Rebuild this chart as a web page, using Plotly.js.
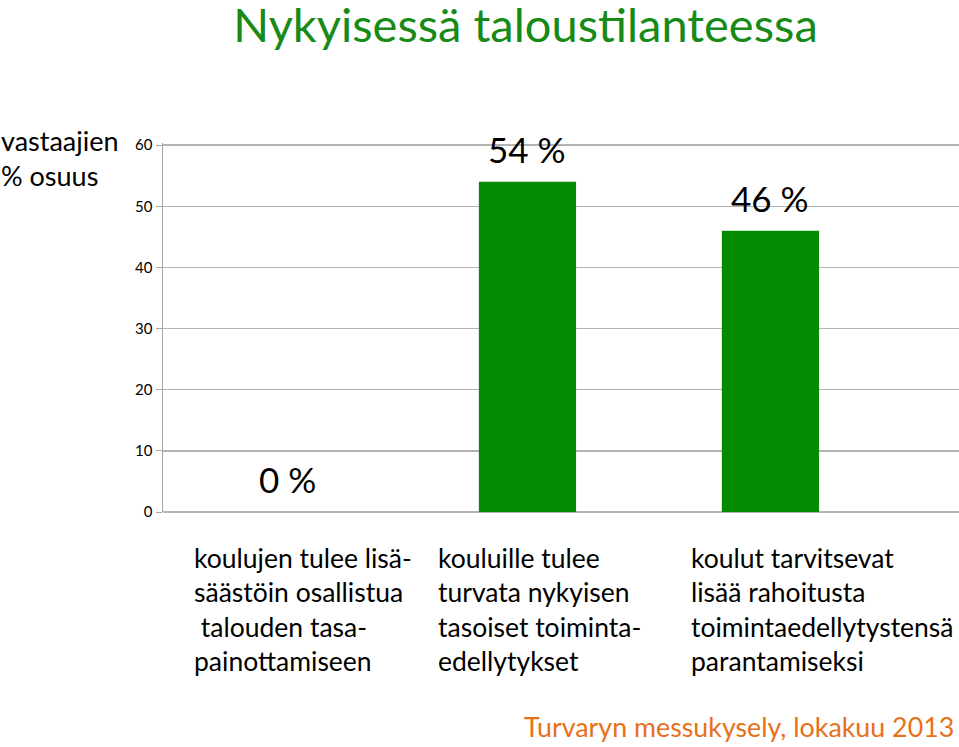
<!DOCTYPE html>
<html><head><meta charset="utf-8">
<script src="https://cdn.plot.ly/plotly-3.0.1.min.js"></script>
<style>html,body{margin:0;padding:0;background:#fff}#c{width:959px;height:747px}</style>
</head><body><div id="c"></div>
<script>
const categories = [
  "koulujen tulee lisä-<br>säästöin osallistua<br>\u00A0talouden tasa-<br>painottamiseen",
  "kouluille tulee<br>turvata nykyisen<br>tasoiset toiminta-<br>edellytykset",
  "koulut tarvitsevat<br>lisää rahoitusta<br>toimintaedellytystensä<br>parantamiseksi"
];
const values = [0, 54, 46];
const valueLabels = ["0 %", "54 %", "46 %"];
const yTicks = [0, 10, 20, 30, 40, 50, 60];
const labelShift = [-92, -91, -81];

const F = "Lato, 'Open Sans', sans-serif";
const idx = categories.map((_, i) => i);

const annotations = [];
idx.forEach(i => {
  annotations.push({x: i, y: values[i], xref: 'x', yref: 'y', text: valueLabels[i],
    showarrow: false, yanchor: 'bottom', yshift: 10, xshift: i === 0 ? 3 : 0, font: {family: F, size: 35, color: '#000'}});
  annotations.push({x: i, y: 0, xref: 'x', yref: 'y', text: categories[i], showarrow: false,
    xanchor: 'left', yanchor: 'top', align: 'left', xshift: labelShift[i], yshift: -28,
    font: {family: F, size: 26.5, color: '#000'}});
});
annotations.push({x: 0, y: 1, xref: 'paper', yref: 'paper', xanchor: 'left', yanchor: 'top',
  xshift: -164, yshift: 21, align: 'left', showarrow: false, text: 'vastaajien<br>% osuus',
  font: {family: F, size: 27, color: '#000'}});
annotations.push({x: 1, y: 0, xref: 'paper', yref: 'paper', xanchor: 'right', yanchor: 'bottom',
  xshift: -3, yshift: -235 + 2, showarrow: false, text: 'Turvaryn messukysely, lokakuu 2013',
  font: {family: F, size: 26.8, color: '#e8701a'}});

Plotly.newPlot('c', [{
  type: 'bar', x: idx, y: values, width: 0.4,
  marker: {color: '#008b00', line: {width: 0}}, hoverinfo: 'none'
}], {
  width: 959, height: 747,
  margin: {l: 163, r: 0, t: 143, b: 235},
  paper_bgcolor: '#fff', plot_bgcolor: '#fff',
  showlegend: false,
  title: {text: 'Nykyisessä taloustilanteessa', x: 0.548, xanchor: 'center', y: 0.988, yanchor: 'top',
    font: {family: F, size: 47, color: '#178a17'}},
  xaxis: {range: [-0.5, 2.776], showticklabels: false, showgrid: false, zeroline: false, ticks: '', fixedrange: true},
  yaxis: {range: [0, 60.35], tickvals: yTicks, ticktext: yTicks.map(String), showgrid: true, gridcolor: '#b3b3b3', gridwidth: 1.5,
    zeroline: true, zerolinecolor: '#b3b3b3', zerolinewidth: 1.5,
    showline: true, linecolor: '#a6a6a6', linewidth: 1.5, ticks: 'outside', ticklen: 6, tickcolor: '#a6a6a6',
    tickfont: {family: F, size: 15, color: '#000'}, fixedrange: true},
  annotations: annotations
}, {staticPlot: true});
</script></body></html>
